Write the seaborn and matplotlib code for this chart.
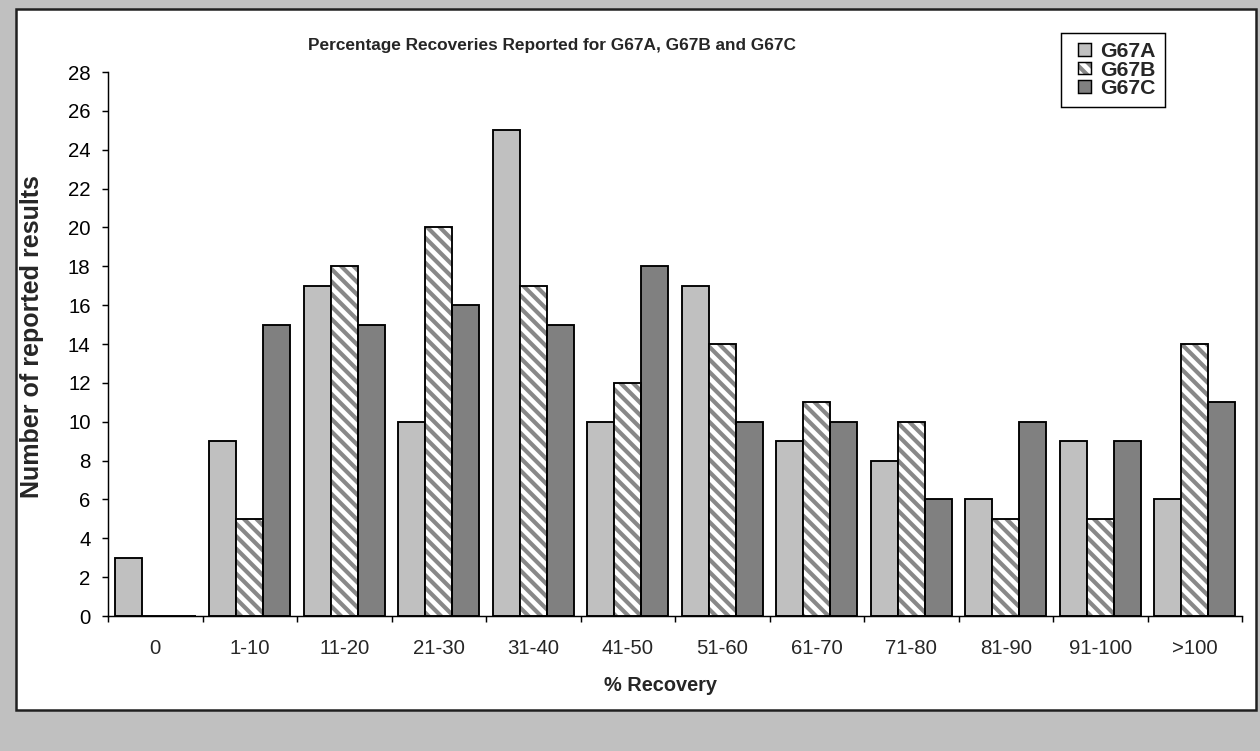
import numpy as np
import pandas as pd
import matplotlib.pyplot as plt
import seaborn as sns
from matplotlib.patches import Rectangle, Patch
from matplotlib.legend_handler import HandlerPatch

# Data
categories = ['0', '1-10', '11-20', '21-30', '31-40', '41-50', '51-60',
              '61-70', '71-80', '81-90', '91-100', '>100']
g67a = [3, 9, 17, 10, 25, 10, 17, 9, 8, 6, 9, 6]
g67b = [0, 5, 18, 20, 17, 12, 14, 11, 10, 5, 5, 14]
g67c = [0, 15, 15, 16, 15, 18, 10, 10, 6, 10, 9, 11]
samples = ['G67A', 'G67B', 'G67C']
colors = ['#C0C0C0', '#FFFFFF', '#808080']

df = pd.DataFrame({
    'range': categories * 3,
    'count': g67a + g67b + g67c,
    'sample': np.repeat(samples, len(categories)),
})

BSLASH = chr(92)
hatch = BSLASH * 4
stripe = '#888888'

sns.set_theme(style='white')
plt.rcParams['font.family'] = ['Liberation Sans', 'DejaVu Sans']
plt.rcParams['hatch.linewidth'] = 2.0

fig = plt.figure(figsize=(8.4, 751 / 150), dpi=150)
fig.patch.set_facecolor('#C0C0C0')

# white chart panel with black border
panel = Rectangle((16 / 1260, 1 - 710 / 751), 1240 / 1260, 701 / 751,
                  transform=fig.transFigure, facecolor='white',
                  edgecolor='#202020', linewidth=1.2, zorder=-1)
fig.patches.append(panel)

ax = fig.add_axes([108 / 1260, 1 - 616 / 751, 1134 / 1260, 544 / 751])
ax.set_facecolor('none')

sns.barplot(data=df, x='range', y='count', hue='sample', palette=colors,
            order=categories, hue_order=samples, width=0.86, saturation=1,
            edgecolor='black', linewidth=0.9, legend=False, ax=ax)

# hatched middle series: gray stripes, black outline drawn on top
for bar in ax.containers[1]:
    bar.set_facecolor('white')
    bar.set_edgecolor(stripe)
    bar.set_linewidth(0)
    bar.set_hatch(hatch)
    outline = Rectangle(bar.get_xy(), bar.get_width(), bar.get_height(),
                        fill=False, edgecolor='black', linewidth=0.9,
                        zorder=bar.get_zorder() + 0.1)
    ax.add_patch(outline)

ax.set_xlim(-0.5, len(categories) - 0.5)
ax.set_ylim(0, 28)
ax.set_yticks(range(0, 29, 2))
ax.tick_params(axis='y', which='major', direction='out', length=2.9, width=0.7,
               pad=5.5, labelsize=9.8, left=True, colors='black')

# x ticks at category boundaries, labels at centers
ax.set_xticks(np.arange(-0.5, len(categories), 1.0))
ax.set_xticklabels([])
ax.set_xticks(range(len(categories)), minor=True)
ax.set_xticklabels(categories, minor=True)
ax.tick_params(axis='x', which='major', direction='out', length=2.8, width=0.7,
               bottom=True, colors='black')
ax.tick_params(axis='x', which='minor', length=0, pad=11, labelsize=9.8)

for side in ['top', 'right']:
    ax.spines[side].set_visible(False)
for side in ['left', 'bottom']:
    ax.spines[side].set_color('black')
    ax.spines[side].set_linewidth(0.7)

ax.set_xlabel('% Recovery', fontsize=9.6, fontweight='bold')
ax.xaxis.set_label_coords(0.487, -0.110)
ax.set_ylabel('Number of reported results', fontsize=12.0, fontweight='bold')
ax.yaxis.set_label_coords(-0.056, 0.513)

ax.text(0.3915, 1.0496, 'Percentage Recoveries Reported for G67A, G67B and G67C',
        transform=ax.transAxes, ha='center', va='center', fontsize=8.3,
        fontweight='bold')


def square_right(legend, orig_handle, xdescent, ydescent, width, height, fontsize):
    # small square marker pushed to the right end of the handle box
    s = height
    return Rectangle((-xdescent + width - s, -ydescent), s, s)


handles = [
    Patch(facecolor=colors[0], edgecolor='black', linewidth=0.7),
    (Patch(facecolor='white', edgecolor=stripe, hatch=hatch, linewidth=0),
     Patch(facecolor='none', edgecolor='black', linewidth=0.7)),
    Patch(facecolor=colors[2], edgecolor='black', linewidth=0.7),
]
leg = ax.legend(handles, samples, loc='upper left', bbox_to_anchor=(0.840, 1.072),
                borderaxespad=0, frameon=True, fancybox=False, framealpha=1,
                edgecolor='black', prop={'weight': 'bold', 'size': 10.2},
                handlelength=0.97, handleheight=0.55, handletextpad=0.45,
                labelspacing=-0.04, borderpad=0.45,
                handler_map={Patch: HandlerPatch(patch_func=square_right)})
leg.get_frame().set_linewidth(0.7)

fig.savefig('out.png', dpi=150, facecolor=fig.get_facecolor())
